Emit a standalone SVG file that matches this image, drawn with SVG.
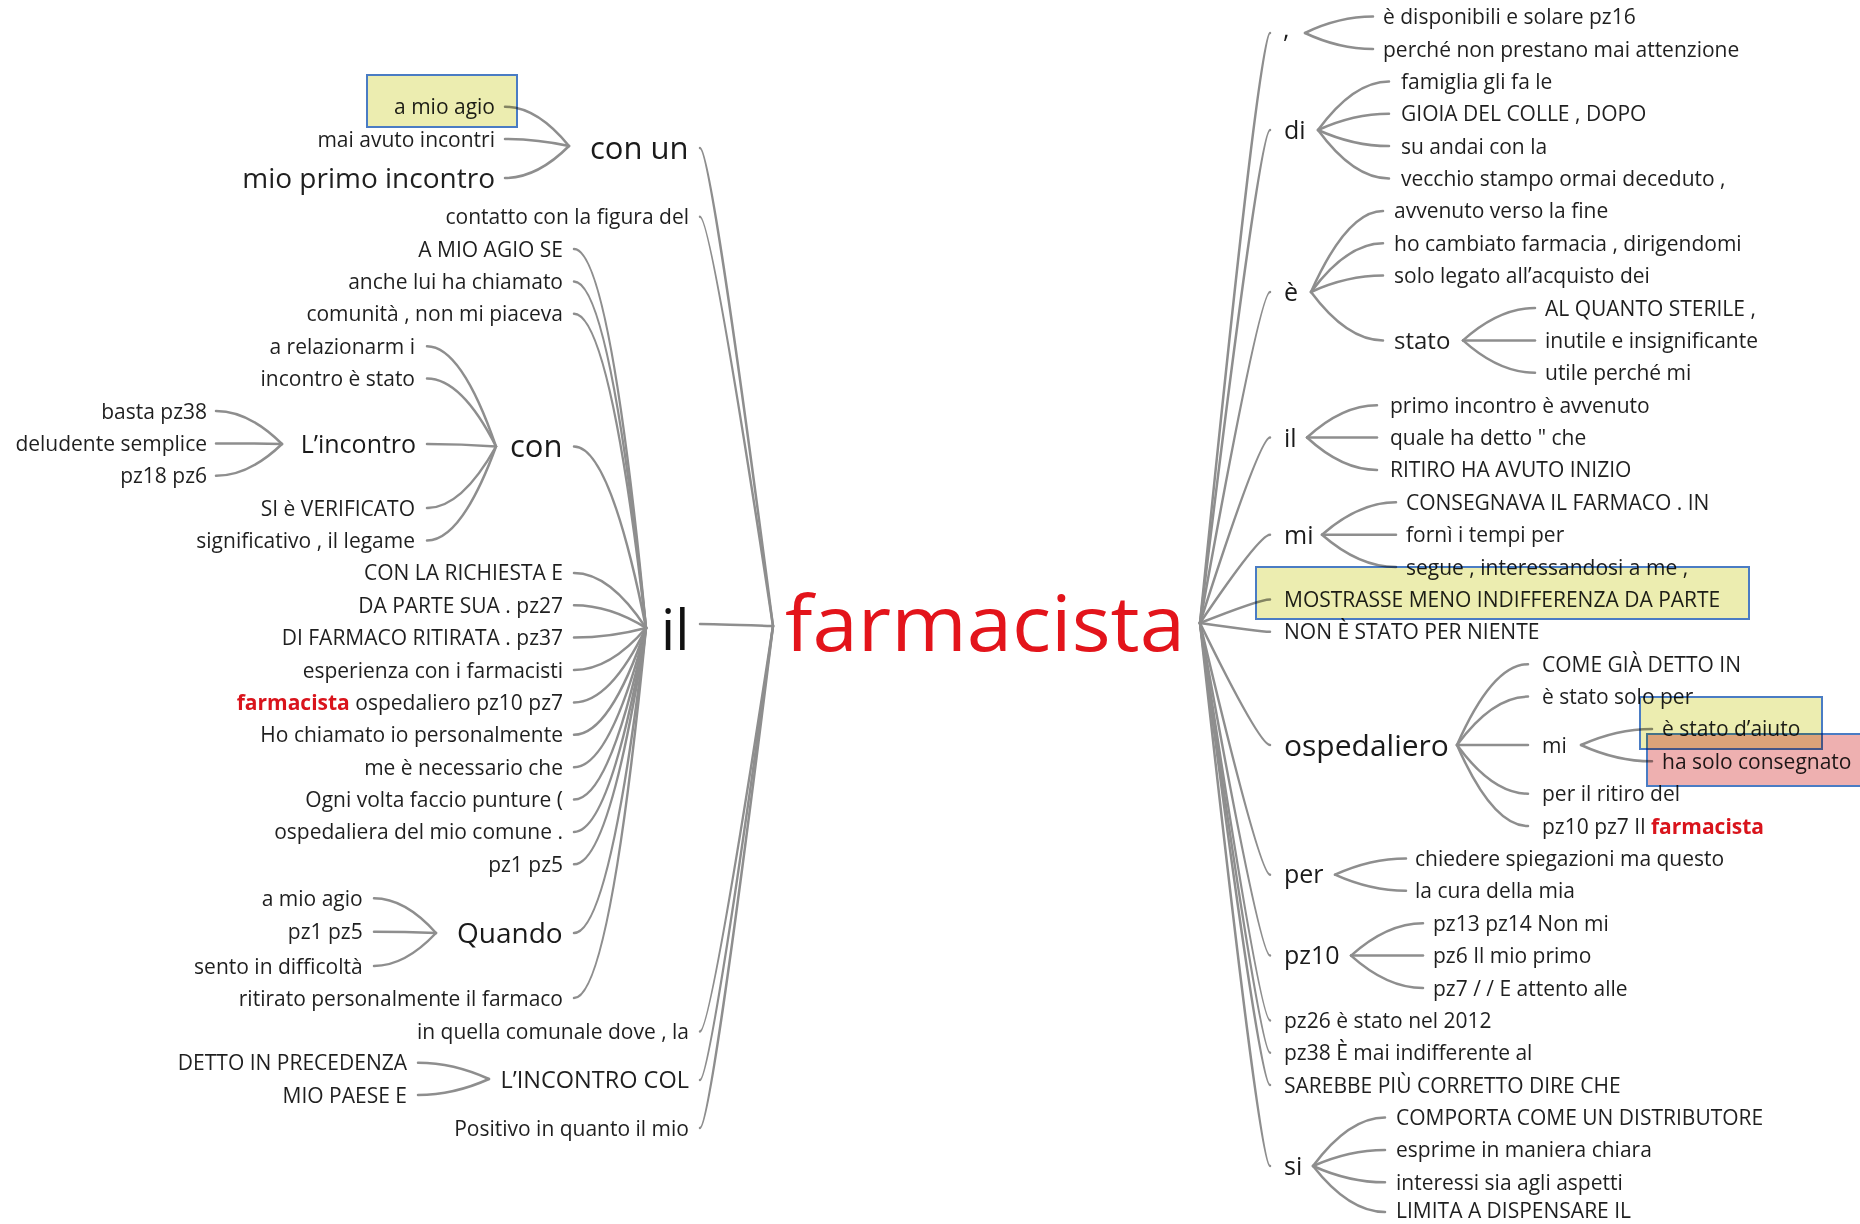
<svg xmlns="http://www.w3.org/2000/svg" width="1860" height="1224" viewBox="0 0 1860 1224">
<style>
text{font-family:"Open Sans","Noto Sans","DejaVu Sans",sans-serif;font-size:21px;fill:#1f1f1f}
.e{text-anchor:end}
.m{font-size:25px;fill:#1a1a1a}
.c path{fill:none;stroke:#8e8e8e;stroke-width:2.5;stroke-linecap:round}
.red{fill:#d9141c;font-weight:bold}
.hy{fill:#ecedb0;stroke:#4a7cc4;stroke-width:2;mix-blend-mode:multiply}
.hp{fill:#eeb0b0;stroke:#4a7cc4;stroke-width:2;mix-blend-mode:multiply}
</style>
<rect width="1860" height="1224" fill="#ffffff"/>
<g id="connectors" class="c">
<path d="M773,626 Q711,148 700,148"/>
<path d="M773,626 Q711,216.7 700,216.7"/>
<path d="M773,626 Q711,624 700,624"/>
<path d="M773,626 Q711,1031.5 700,1031.5"/>
<path d="M773,626 Q711,1080 700,1080"/>
<path d="M773,626 Q711,1128 700,1128"/>
<path d="M569,146 Q537,106.7 505,106.7"/>
<path d="M569,146 Q537,139 505,139"/>
<path d="M569,146 Q537,178 505,178"/>
<path d="M646,628 Q610,249 574,249"/>
<path d="M646,628 Q610,281.4 574,281.4"/>
<path d="M646,628 Q610,313.8 574,313.8"/>
<path d="M646,628 Q610,446.5 574,446.5"/>
<path d="M646,628 Q610,572.9 574,572.9"/>
<path d="M646,628 Q610,605.3 574,605.3"/>
<path d="M646,628 Q610,637.6 574,637.6"/>
<path d="M646,628 Q610,670 574,670"/>
<path d="M646,628 Q610,702.4 574,702.4"/>
<path d="M646,628 Q610,734.8 574,734.8"/>
<path d="M646,628 Q610,767.2 574,767.2"/>
<path d="M646,628 Q610,799.5 574,799.5"/>
<path d="M646,628 Q610,831.9 574,831.9"/>
<path d="M646,628 Q610,864.3 574,864.3"/>
<path d="M646,628 Q610,933 574,933"/>
<path d="M646,628 Q610,998 574,998"/>
<path d="M496,446.5 Q461.5,346.2 427,346.2"/>
<path d="M496,446.5 Q461.5,378.6 427,378.6"/>
<path d="M496,446.5 Q461.5,444 427,444"/>
<path d="M496,446.5 Q461.5,508.1 427,508.1"/>
<path d="M496,446.5 Q461.5,540.5 427,540.5"/>
<path d="M282,444 Q249,411 216,411"/>
<path d="M282,444 Q249,443.4 216,443.4"/>
<path d="M282,444 Q249,475.8 216,475.8"/>
<path d="M436,933 Q405,898.3 374,898.3"/>
<path d="M436,933 Q405,931.7 374,931.7"/>
<path d="M436,933 Q405,966 374,966"/>
<path d="M489,1079 Q453.5,1062.7 418,1062.7"/>
<path d="M489,1079 Q453.5,1095 418,1095"/>
<path d="M1200,623 Q1259.5,33 1270,33"/>
<path d="M1200,623 Q1259.5,130 1270,130"/>
<path d="M1200,623 Q1259.5,292 1270,292"/>
<path d="M1200,623 Q1259.5,437.5 1270,437.5"/>
<path d="M1200,623 Q1259.5,534.7 1270,534.7"/>
<path d="M1200,623 Q1259.5,599.4 1270,599.4"/>
<path d="M1200,623 Q1259.5,631.8 1270,631.8"/>
<path d="M1200,623 Q1259.5,745 1270,745"/>
<path d="M1200,623 Q1259.5,874.7 1270,874.7"/>
<path d="M1200,623 Q1259.5,955.6 1270,955.6"/>
<path d="M1200,623 Q1259.5,1020.4 1270,1020.4"/>
<path d="M1200,623 Q1259.5,1052.7 1270,1052.7"/>
<path d="M1200,623 Q1259.5,1085.1 1270,1085.1"/>
<path d="M1200,623 Q1259.5,1166 1270,1166"/>
<path d="M1305,33 Q1339,16.6 1373,16.6"/>
<path d="M1305,33 Q1339,49 1373,49"/>
<path d="M1318,130 Q1353.5,81.4 1389,81.4"/>
<path d="M1318,130 Q1353.5,113.7 1389,113.7"/>
<path d="M1318,130 Q1353.5,146.1 1389,146.1"/>
<path d="M1318,130 Q1353.5,178.5 1389,178.5"/>
<path d="M1311,292 Q1347,210.9 1383,210.9"/>
<path d="M1311,292 Q1347,243.3 1383,243.3"/>
<path d="M1311,292 Q1347,275.6 1383,275.6"/>
<path d="M1311,292 Q1347,340.4 1383,340.4"/>
<path d="M1463,340.4 Q1499,308 1535,308"/>
<path d="M1463,340.4 Q1499,340.4 1535,340.4"/>
<path d="M1463,340.4 Q1499,372.8 1535,372.8"/>
<path d="M1307,437.5 Q1342,405.2 1377,405.2"/>
<path d="M1307,437.5 Q1342,437.5 1377,437.5"/>
<path d="M1307,437.5 Q1342,469.9 1377,469.9"/>
<path d="M1322,534.7 Q1359,502.3 1396,502.3"/>
<path d="M1322,534.7 Q1359,534.7 1396,534.7"/>
<path d="M1322,534.7 Q1359,567 1396,567"/>
<path d="M1457,745 Q1492.5,664.2 1528,664.2"/>
<path d="M1457,745 Q1492.5,696.6 1528,696.6"/>
<path d="M1457,745 Q1492.5,745 1528,745"/>
<path d="M1457,745 Q1492.5,793.7 1528,793.7"/>
<path d="M1457,745 Q1492.5,826.1 1528,826.1"/>
<path d="M1581,745 Q1616.5,728.9 1652,728.9"/>
<path d="M1581,745 Q1616.5,761.3 1652,761.3"/>
<path d="M1335,874.7 Q1370.5,858.5 1406,858.5"/>
<path d="M1335,874.7 Q1370.5,890.8 1406,890.8"/>
<path d="M1351,955.6 Q1387,923.2 1423,923.2"/>
<path d="M1351,955.6 Q1387,955.6 1423,955.6"/>
<path d="M1351,955.6 Q1387,988 1423,988"/>
<path d="M1313,1166 Q1349,1117.5 1385,1117.5"/>
<path d="M1313,1166 Q1349,1149.9 1385,1149.9"/>
<path d="M1313,1166 Q1349,1182.3 1385,1182.3"/>
<path d="M1313,1166 Q1349,1212 1385,1212"/>
</g>

<g id="root"><text x="785" y="651" textLength="400" lengthAdjust="spacingAndGlyphs" style="font-size:76px;fill:#e3141b">farmacista</text></g>

<g id="L-il"><text x="661" y="650" style="font-size:56px;fill:#111">il</text></g>
<g id="L-conun"><text x="590" y="158.5" style="font-size:31px;fill:#1a1a1a">con un</text></g>
<g id="L-conun-1"><text class="e" x="495" y="114">a mio agio</text></g>
<g id="L-conun-2"><text class="e" x="495" y="146.5">mai avuto incontri</text></g>
<g id="L-conun-3"><text class="e" x="495" y="188" style="font-size:28px">mio primo incontro</text></g>
<g id="L-contatto"><text class="e" x="689" y="224.2">contatto con la figura del</text></g>
<g id="L-il-1"><text class="e" x="563" y="256.5">A MIO AGIO SE</text></g>
<g id="L-il-2"><text class="e" x="563" y="288.9">anche lui ha chiamato</text></g>
<g id="L-il-3"><text class="e" x="563" y="321.3">comunità , non mi piaceva</text></g>
<g id="L-con"><text x="510" y="457" style="font-size:31px;fill:#1a1a1a">con</text></g>
<g id="L-con-1"><text class="e" x="415" y="353.7">a relazionarm i</text></g>
<g id="L-con-2"><text class="e" x="415" y="386.1">incontro è stato</text></g>
<g id="L-lincontro"><text x="300.7" y="452.5" class="m">L’incontro</text></g>
<g id="L-linc-1"><text class="e" x="207" y="418.5">basta pz38</text></g>
<g id="L-linc-2"><text class="e" x="207" y="450.9">deludente semplice</text></g>
<g id="L-linc-3"><text class="e" x="207" y="483.3">pz18 pz6</text></g>
<g id="L-con-4"><text class="e" x="415" y="515.6">SI è VERIFICATO</text></g>
<g id="L-con-5"><text class="e" x="415" y="548">significativo , il legame</text></g>
<g id="L-il-5"><text class="e" x="563" y="580.4">CON LA RICHIESTA E</text></g>
<g id="L-il-6"><text class="e" x="563" y="612.8">DA PARTE SUA . pz27</text></g>
<g id="L-il-7"><text class="e" x="563" y="645.1">DI FARMACO RITIRATA . pz37</text></g>
<g id="L-il-8"><text class="e" x="563" y="677.5">esperienza con i farmacisti</text></g>
<g id="L-il-9"><text class="e" x="563" y="709.9"><tspan class="red">farmacista</tspan> ospedaliero pz10 pz7</text></g>
<g id="L-il-10"><text class="e" x="563" y="742.3">Ho chiamato io personalmente</text></g>
<g id="L-il-11"><text class="e" x="563" y="774.7">me è necessario che</text></g>
<g id="L-il-12"><text class="e" x="563" y="807">Ogni volta faccio punture (</text></g>
<g id="L-il-13"><text class="e" x="563" y="839.4">ospedaliera del mio comune .</text></g>
<g id="L-il-14"><text class="e" x="563" y="871.8">pz1 pz5</text></g>
<g id="L-quando"><text x="457" y="943" style="font-size:28px;fill:#1a1a1a">Quando</text></g>
<g id="L-q-1"><text class="e" x="362.7" y="905.8">a mio agio</text></g>
<g id="L-q-2"><text class="e" x="362.7" y="939.2">pz1 pz5</text></g>
<g id="L-q-3"><text class="e" x="362.7" y="973.5">sento in difficoltà</text></g>
<g id="L-il-16"><text class="e" x="563" y="1005.5">ritirato personalmente il farmaco</text></g>
<g id="L-quella"><text class="e" x="689" y="1039">in quella comunale dove , la</text></g>
<g id="L-incol"><text x="500.5" y="1088" style="font-size:23.5px">L’INCONTRO COL</text></g>
<g id="L-incol-1"><text class="e" x="407" y="1070.2">DETTO IN PRECEDENZA</text></g>
<g id="L-incol-2"><text class="e" x="407" y="1102.5">MIO PAESE E</text></g>
<g id="L-positivo"><text class="e" x="689" y="1135.5">Positivo in quanto il mio</text></g>

<g id="R-comma"><text x="1283" y="38" class="m">,</text></g>
<g id="R-comma-1"><text x="1383" y="24.1">è disponibili e solare pz16</text></g>
<g id="R-comma-2"><text x="1383" y="56.5">perché non prestano mai attenzione</text></g>
<g id="R-di"><text x="1284" y="139" class="m">di</text></g>
<g id="R-di-1"><text x="1401" y="88.9">famiglia gli fa le</text></g>
<g id="R-di-2"><text x="1401" y="121.2">GIOIA DEL COLLE , DOPO</text></g>
<g id="R-di-3"><text x="1401" y="153.6">su andai con la</text></g>
<g id="R-di-4"><text x="1401" y="186">vecchio stampo ormai deceduto ,</text></g>
<g id="R-e"><text x="1284" y="301" class="m">è</text></g>
<g id="R-e-1"><text x="1394" y="218.4">avvenuto verso la fine</text></g>
<g id="R-e-2"><text x="1394" y="250.8">ho cambiato farmacia , dirigendomi</text></g>
<g id="R-e-3"><text x="1394" y="283.1">solo legato all’acquisto dei</text></g>
<g id="R-stato"><text x="1394" y="349" style="font-size:24px">stato</text></g>
<g id="R-stato-1"><text x="1545" y="315.5">AL QUANTO STERILE ,</text></g>
<g id="R-stato-2"><text x="1545" y="347.9">inutile e insignificante</text></g>
<g id="R-stato-3"><text x="1545" y="380.3">utile perché mi</text></g>
<g id="R-il"><text x="1284" y="446.5" class="m">il</text></g>
<g id="R-il-1"><text x="1390" y="412.7">primo incontro è avvenuto</text></g>
<g id="R-il-2"><text x="1390" y="445">quale ha detto " che</text></g>
<g id="R-il-3"><text x="1390" y="477.4">RITIRO HA AVUTO INIZIO</text></g>
<g id="R-mi"><text x="1284" y="543.5" class="m">mi</text></g>
<g id="R-mi-1"><text x="1406" y="509.8">CONSEGNAVA IL FARMACO . IN</text></g>
<g id="R-mi-2"><text x="1406" y="542.2">fornì i tempi per</text></g>
<g id="R-mi-3"><text x="1406" y="574.5">segue , interessandosi a me ,</text></g>
<g id="R-mostrasse"><text x="1284" y="606.9">MOSTRASSE MENO INDIFFERENZA DA PARTE</text></g>
<g id="R-non"><text x="1284" y="639.3">NON È STATO PER NIENTE</text></g>
<g id="R-osp"><text x="1284" y="755.5" style="font-size:30px;fill:#1a1a1a">ospedaliero</text></g>
<g id="R-osp-1"><text x="1542" y="671.7">COME GIÀ DETTO IN</text></g>
<g id="R-osp-2"><text x="1542" y="704.1">è stato solo per</text></g>
<g id="R-osp-mi"><text x="1542" y="752.5">mi</text></g>
<g id="R-mi2-1"><text x="1662" y="736.4">è stato d’aiuto</text></g>
<g id="R-mi2-2"><text x="1662" y="768.8">ha solo consegnato</text></g>
<g id="R-osp-4"><text x="1542" y="801.2">per il ritiro del</text></g>
<g id="R-osp-5"><text x="1542" y="833.6">pz10 pz7 Il <tspan class="red">farmacista</tspan></text></g>
<g id="R-per"><text x="1284" y="883" class="m">per</text></g>
<g id="R-per-1"><text x="1415" y="866">chiedere spiegazioni ma questo</text></g>
<g id="R-per-2"><text x="1415" y="898.3">la cura della mia</text></g>
<g id="R-pz10"><text x="1284" y="964" class="m">pz10</text></g>
<g id="R-pz10-1"><text x="1433" y="930.7">pz13 pz14 Non mi</text></g>
<g id="R-pz10-2"><text x="1433" y="963.1">pz6 Il mio primo</text></g>
<g id="R-pz10-3"><text x="1433" y="995.5">pz7 / / E attento alle</text></g>
<g id="R-pz26"><text x="1284" y="1027.9">pz26 è stato nel 2012</text></g>
<g id="R-pz38"><text x="1284" y="1060.2">pz38 È mai indifferente al</text></g>
<g id="R-sarebbe"><text x="1284" y="1092.6">SAREBBE PIÙ CORRETTO DIRE CHE</text></g>
<g id="R-si"><text x="1284" y="1175" class="m">si</text></g>
<g id="R-si-1"><text x="1396" y="1125">COMPORTA COME UN DISTRIBUTORE</text></g>
<g id="R-si-2"><text x="1396" y="1157.4">esprime in maniera chiara</text></g>
<g id="R-si-3"><text x="1396" y="1189.8">interessi sia agli aspetti</text></g>
<g id="R-si-4"><text x="1396" y="1217.5">LIMITA A DISPENSARE IL</text></g>

<g id="highlights">
<rect class="hy" x="367" y="75" width="150" height="52"/>
<rect class="hy" x="1256" y="567" width="493" height="52"/>
<rect class="hy" x="1640" y="697" width="182" height="52"/>
<rect class="hp" x="1647" y="734" width="216" height="52"/>
</g>
</svg>
